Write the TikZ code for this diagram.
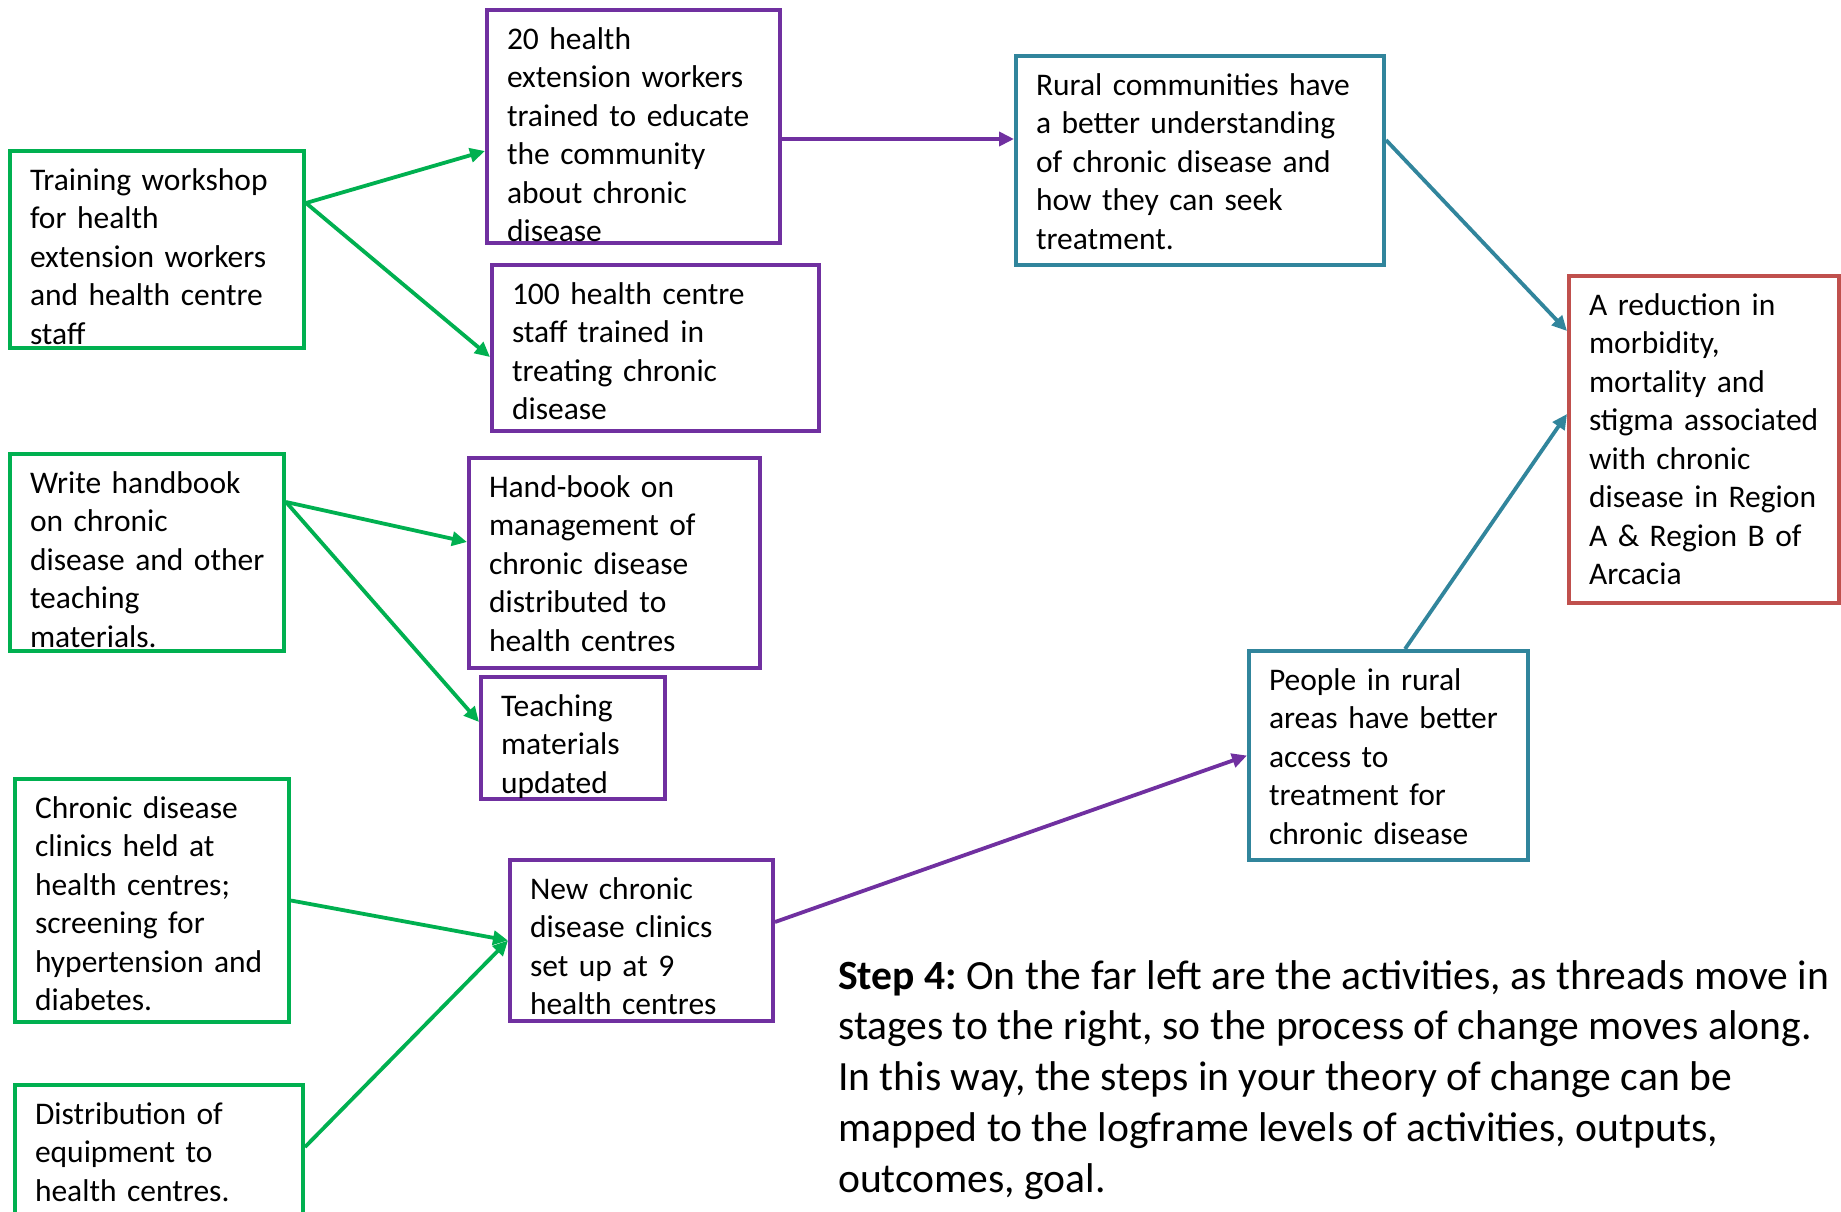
\documentclass[tikz,border=0pt]{standalone}
\usepackage{fontspec}
\setmainfont{Carlito}
\usepackage{xcolor}
\usepackage{tikz}
\usetikzlibrary{arrows.meta,calc}
\definecolor{ActGreen}{HTML}{00B050}
\definecolor{OutPurple}{HTML}{7030A0}
\definecolor{ResTeal}{HTML}{31859C}
\definecolor{GoalRed}{HTML}{C0504D}
\frenchspacing
% lines set as typed, never re-wrapped
\newcommand{\boxlines}[1]{\begin{tabular}[t]{@{}l@{}}#1\end{tabular}}

\begin{document}
\begin{tikzpicture}[
  x=1pt, y=-1pt,
  box/.style={draw,line width=4pt,anchor=north west,inner xsep=20pt,inner ysep=10pt,
    text height=29pt,align=left,font=\fontsize{31.5}{38.5}\selectfont},
  act/.style={box,draw=ActGreen},
  outp/.style={box,draw=OutPurple},
  res/.style={box,draw=ResTeal},
  aim/.style={box,draw=GoalRed},
  arrow/.style={-{Triangle[length=15pt,width=14pt]},line width=3.8pt},
  note/.style={anchor=base west,inner sep=0pt,font=\fontsize{41.6}{50.8}\selectfont}
]
  \clip (0,0) rectangle (1841,1211);
  \fill[white] (0,0) rectangle (1841,1211);

  % activities
  \node[act, text width=254pt, text depth=148pt] (train) at (8,149)
    {\boxlines{Training workshop\\for health\\extension workers\\and health centre\\staff}};
  \node[act, text width=234pt, text depth=148pt] (write) at (8,452)
    {\boxlines{Write handbook\\on chronic\\disease and other\\teaching\\materials.}};
  \node[act, text width=234pt, text depth=194pt] (clinic) at (13,777)
    {\boxlines{Chronic disease\\clinics held at\\health centres;\\screening for\\hypertension and\\diabetes.}};
  \node[act, text width=248pt, text depth=121pt] (equip) at (13,1083)
    {\boxlines{Distribution of\\equipment to\\health centres.}};

  % outputs
  \node[outp, text width=253pt, text depth=184pt] (hew) at (485,8)
    {\boxlines{20 health\\extension workers\\trained to educate\\the community\\about chronic\\disease}};
  \node[outp, text width=287pt, text depth=117pt] (staff) at (490,263)
    {\boxlines{100 health centre\\staff trained in\\treating chronic\\disease}};
  \node[outp, text width=251pt, text depth=161pt] (hbook) at (467,456)
    {\boxlines{Hand-book on\\management of\\chronic disease\\distributed to\\health centres}};
  \node[outp, text width=144pt, text depth=73pt] (teach) at (479,675)
    {\boxlines{Teaching\\materials\\updated}};
  \node[outp, text width=223pt, text depth=112pt] (newcl) at (508,858)
    {\boxlines{New chronic\\disease clinics\\set up at 9\\health centres}};

  % outcomes and goal
  \node[res, text width=328pt, text depth=160pt] (rural) at (1014,54)
    {\boxlines{Rural communities have\\a better understanding\\of chronic disease and\\how they can seek\\treatment.}};
  \node[res, text width=239pt, text depth=160pt] (people) at (1247,649)
    {\boxlines{People in rural\\areas have better\\access to\\treatment for\\chronic disease}};
  \node[aim, text width=230pt, text depth=278pt] (goal) at (1567,274)
    {\boxlines{A reduction in\\morbidity,\\mortality and\\stigma associated\\with chronic\\disease in Region\\A \& Region B of\\Arcacia}};

  \node[note] (stepnote) at (838,989)
    {\boxlines{\textbf{Step 4:} On the far left are the activities, as threads move in\\
     stages to the right, so the process of change moves along.\\
     In this way, the steps in your theory of change can be\\
     mapped to the logframe levels of activities, outputs,\\
     outcomes, goal.}};

  \draw[arrow,ActGreen] ([yshift=-54pt]train.north east) -- ([yshift=-143pt]hew.north west);
  \draw[arrow,ActGreen] ([yshift=-54pt]train.north east) -- ([yshift=-94pt]staff.north west);
  \draw[arrow,ActGreen] ([yshift=-50pt]write.north east) -- ([yshift=-86pt]hbook.north west);
  \draw[arrow,ActGreen] ([yshift=-50pt]write.north east) -- ([yshift=-47pt]teach.north west);
  \draw[arrow,ActGreen] (clinic.east) -- (newcl.west);
  \draw[arrow,ActGreen] ([yshift=-64pt]equip.north east) -- (newcl.west);
  \draw[arrow,OutPurple] ([yshift=-131pt]hew.north east) -- ([yshift=-85pt]rural.north west);
  \draw[arrow,OutPurple] ([yshift=-64pt]newcl.north east) -- (people.west);
  \draw[arrow,ResTeal] ([yshift=-86pt]rural.north east) -- ([yshift=-57pt]goal.north west);
  \draw[arrow,ResTeal] ([xshift=158pt]people.north west) -- ([yshift=-140pt]goal.north west);
\end{tikzpicture}
\end{document}
